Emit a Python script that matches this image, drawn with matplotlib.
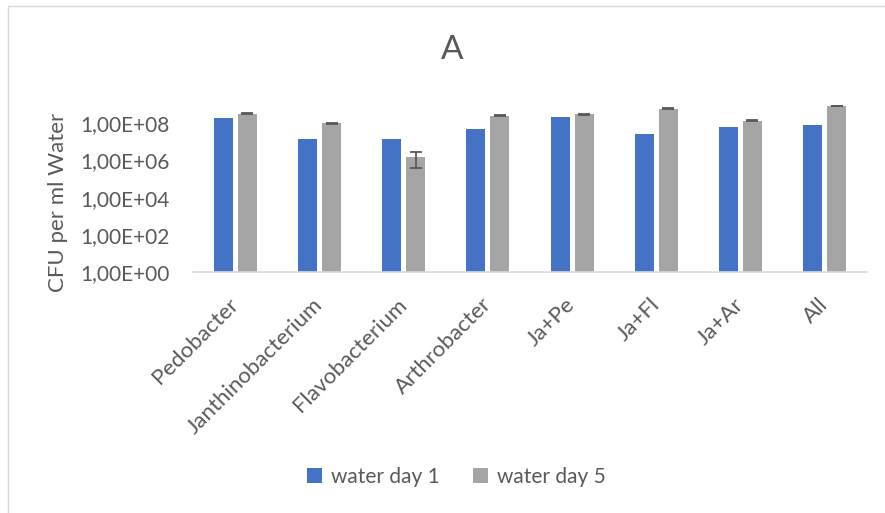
import numpy as np
import matplotlib
matplotlib.use("Agg")
import matplotlib.pyplot as plt
from matplotlib.patches import Rectangle

plt.rcParams['font.family'] = ['Lato', 'DejaVu Sans']

categories = ["Pedobacter", "Janthinobacterium", "Flavobacterium", "Arthrobacter",
              "Ja+Pe", "Ja+Fl", "Ja+Ar", "All"]
day1 = [2.0e8, 1.4e7, 1.4e7, 5.2e7, 2.1e8, 2.7e7, 6.5e7, 8.0e7]
day5 = [3.2e8, 1.0e8, 1.6e6, 2.5e8, 3.0e8, 6.0e8, 1.35e8, 8.7e8]
day5_err = [2.0e7, 8.0e6, 1.2e6, 1.5e7, 1.5e7, 4.0e7, 8.0e6, 0.0]
tick_vals = [1e0, 1e2, 1e4, 1e6, 1e8]
tick_labels = ["1,00E+00", "1,00E+02", "1,00E+04", "1,00E+06", "1,00E+08"]
series_names = ["water day 1", "water day 5"]

blue = "#4472C4"
gray = "#A5A5A5"
text_col = "#595959"

W, H = 885, 513
fig = plt.figure(figsize=(W / 100, H / 100), dpi=100)
fig.patch.set_facecolor("white")

# chart-area border (runs past the right and bottom edges)
fig.add_artist(Rectangle((7.5 / W, -0.1), 1.2, 1 - 5.5 / H + 0.1,
                         transform=fig.transFigure, fill=False,
                         edgecolor="#D9D9D9", linewidth=1.0))

left, right = 193.3, 866.7
y0, ytop = 272.3, 104.7
ax = fig.add_axes([left / W, 1 - y0 / H, (right - left) / W, (y0 - ytop) / H])

x = np.arange(len(categories))
bw = 0.225
off = 0.1425
ax.bar(x - off, day1, width=bw, color=blue, label=series_names[0], zorder=2)
ax.bar(x + off, day5, width=bw, color=gray, label=series_names[1], zorder=2)
ax.errorbar(x + off, day5, yerr=day5_err, fmt="none", ecolor="#595959",
            elinewidth=1.3, capsize=4.5, capthick=1.3, zorder=3)

ax.set_yscale("log")
ax.set_ylim(1, 1e9)
ax.set_xlim(-0.5, len(categories) - 0.5)
ax.set_yticks(tick_vals)
ax.set_yticklabels(tick_labels)
ax.yaxis.set_minor_locator(matplotlib.ticker.NullLocator())
ax.tick_params(axis="y", length=0, pad=17, labelsize=15, labelcolor=text_col)
ax.set_xticks(x)
ax.set_xticklabels(categories, rotation=45, ha="right", va="center",
                   rotation_mode="anchor")
ax.tick_params(axis="x", length=0, pad=21, labelsize=16, labelcolor=text_col)

for s in ["top", "right", "left"]:
    ax.spines[s].set_visible(False)
ax.spines["bottom"].set_color("#D9D9D9")
ax.spines["bottom"].set_linewidth(1.2)
ax.set_facecolor("none")

fig.text(452 / W, 1 - 50 / H, "A", ha="center", va="center",
         fontsize=24, color=text_col)
fig.text(58 / W, 1 - 202 / H, "CFU per ml Water", rotation=90,
         ha="center", va="center", fontsize=16, color=text_col)

leg = fig.legend(loc="center", bbox_to_anchor=(456 / W, 1 - 477 / H),
                 ncol=2, frameon=False, fontsize=15, handlelength=0.75,
                 handleheight=0.75, handletextpad=0.4, columnspacing=1.6,
                 labelcolor=text_col)

fig.savefig("out.png", dpi=100, facecolor="white")
